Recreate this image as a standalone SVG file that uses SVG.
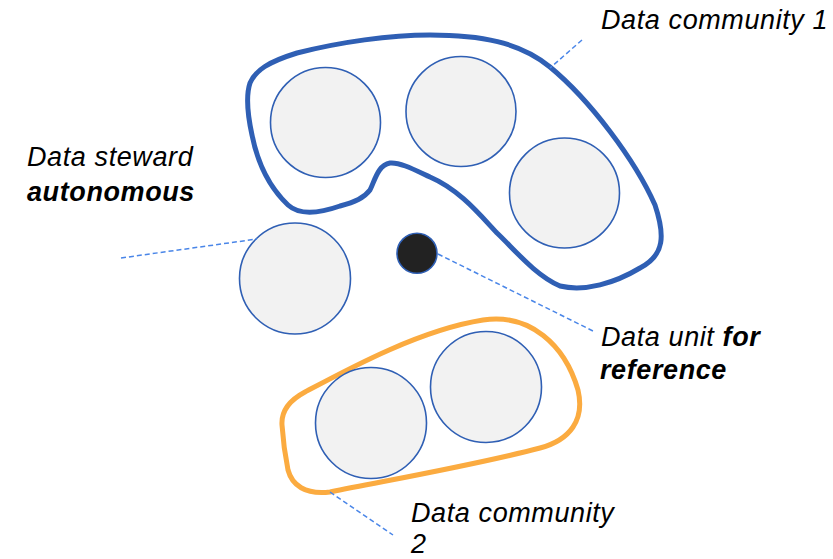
<svg xmlns="http://www.w3.org/2000/svg" width="833" height="559" viewBox="0 0 833 559">
<style>
.lbl{font-family:"Liberation Sans",Arial,sans-serif;font-size:27px;font-style:italic;letter-spacing:0.6px;fill:#000}
.b{font-weight:bold}
.unit{fill:#f2f2f2;stroke:#2f5fb4;stroke-width:1.6}
.lead{fill:none;stroke:#4a86e8;stroke-width:1.5;stroke-dasharray:5 3}
.grp{fill:none;stroke-width:5;stroke-linejoin:round}
</style>
<rect width="833" height="559" fill="#fff"/>
<g id="community1">
<path class="grp" stroke="#2f5fb4" d="M 250,83 C 256,70 268,62 297,53 C 340,42 390,35 430,35 C 480,35 520,42 550,67 C 590,100 635,160 655,205 C 665,235 665,255 640,268 C 615,283 585,292 560,286 C 535,275 515,250 497,233 C 480,215 460,190 430,177 C 415,170 400,162 390,163 C 378,165 375,180 370,190 C 364,198 355,202 340,206 C 320,213 300,216 288,205 C 270,188 258,165 252,135 C 247,112 246,95 250,83 Z"/>
<circle class="unit" cx="325.5" cy="122.5" r="55"/>
<circle class="unit" cx="461" cy="111.5" r="55"/>
<circle class="unit" cx="564.5" cy="193" r="55"/>
</g>
<g id="community2">
<path class="grp" stroke="#fbab40" d="M 282,425 C 281,410 290,400 305,392 C 350,368 420,330 483,320 C 530,313 565,345 578,390 C 585,420 570,440 540,448 C 480,464 400,478 330,492 C 305,495 292,485 288,470 C 285,455 283,440 282,425 Z"/>
<circle class="unit" cx="371" cy="423" r="55.5"/>
<circle class="unit" cx="486" cy="387" r="55.5"/>
</g>
<g id="steward">
<circle class="unit" cx="295" cy="278.5" r="55.5"/>
</g>
<g id="dataunit">
<circle cx="417" cy="253.3" r="20" fill="#222" stroke="#2f5fb4" stroke-width="1.6"/>
</g>
<g id="connectors">
<line class="lead" x1="582" y1="40" x2="550" y2="68"/>
<line class="lead" x1="121" y1="258" x2="257" y2="239"/>
<line class="lead" x1="438" y1="254" x2="593" y2="331"/>
<line class="lead" x1="330" y1="492" x2="393" y2="535"/>
</g>
<g id="labels">
<text class="lbl" x="601" y="29">Data community 1</text>
<text class="lbl" x="27" y="166">Data steward</text>
<text class="lbl b" x="27" y="201">autonomous</text>
<text class="lbl" x="601" y="346">Data unit <tspan class="b">for</tspan></text>
<text class="lbl b" x="600" y="379">reference</text>
<text class="lbl" x="411" y="522">Data community</text>
<text class="lbl" x="411" y="553">2</text>
</g>
</svg>
